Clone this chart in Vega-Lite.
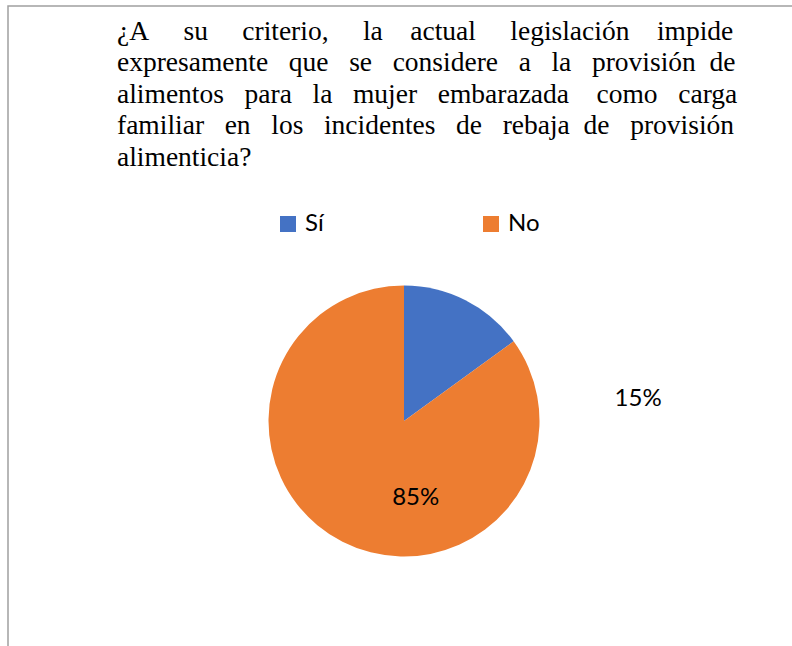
{
  "$schema": "https://vega.github.io/schema/vega-lite/v6.json",
  "autosize": "none",
  "width": 792,
  "height": 830,
  "padding": {"left": 8, "top": 6, "right": -8, "bottom": -190},
  "background": "white",
  "config": {
    "view": {"stroke": null},
    "font": "Lato"
  },
  "title": {
    "text": [
      "¿A\u00a0\u00a0\u00a0\u00a0\u00a0su\u00a0\u00a0\u00a0\u00a0\u00a0criterio,\u00a0\u00a0\u00a0\u00a0\u00a0la\u00a0\u00a0\u00a0\u00a0actual\u00a0\u00a0\u00a0\u00a0\u00a0legislación\u00a0\u00a0\u00a0\u00a0impide",
      "expresamente\u00a0\u00a0\u00a0que\u00a0\u00a0\u00a0se\u00a0\u00a0\u00a0considere\u00a0\u00a0\u00a0a\u00a0\u00a0\u00a0la\u00a0\u00a0\u00a0provisión\u00a0\u00a0de",
      "alimentos\u00a0\u00a0\u00a0para\u00a0\u00a0\u00a0la\u00a0\u00a0\u00a0mujer\u00a0\u00a0\u00a0embarazada\u00a0\u00a0\u00a0\u00a0como\u00a0\u00a0\u00a0carga",
      "familiar\u00a0\u00a0\u00a0en\u00a0\u00a0\u00a0los\u00a0\u00a0\u00a0incidentes\u00a0\u00a0\u00a0de\u00a0\u00a0\u00a0rebaja\u00a0\u00a0de\u00a0\u00a0\u00a0provisión",
      "alimenticia?"
    ],
    "anchor": "start",
    "frame": "group",
    "orient": "top",
    "offset": -166,
    "dx": 109,
    "font": "Liberation Serif",
    "fontSize": 27.5,
    "fontWeight": "normal",
    "lineHeight": 31.5,
    "color": "#000000"
  },
  "data": {
    "values": [
      {"respuesta": "Sí", "porcentaje": 15, "etiqueta": "15%", "orden": 1},
      {"respuesta": "No", "porcentaje": 85, "etiqueta": "85%", "orden": 2}
    ]
  },
  "layer": [
    {
      "data": {"values": [{"marco": "borde"}]},
      "mark": {"type": "rect", "fill": null, "fillOpacity": 0, "stroke": "#a0a0a0", "strokeWidth": 1.5},
      "encoding": {}
    },
    {
      "mark": {"type": "arc", "radius": 135.5},
      "encoding": {
        "theta": {"field": "porcentaje", "type": "quantitative", "stack": true},
        "order": {"field": "orden", "type": "quantitative"},
        "color": {
          "field": "respuesta",
          "type": "nominal",
          "sort": ["Sí", "No"],
          "scale": {"domain": ["Sí", "No"], "range": ["#4472C4", "#ED7D31"]},
          "legend": {
            "title": null,
            "orient": "none",
            "legendX": 268,
            "legendY": 206,
            "direction": "horizontal",
            "columns": 2,
            "padding": 0,
            "columnPadding": 155,
            "symbolType": "square",
            "symbolSize": 256,
            "symbolStrokeWidth": 0,
            "labelOffset": 5,
            "labelFont": "Lato",
            "labelFontSize": 24,
            "labelColor": "#000000"
          }
        }
      }
    },
    {
      "mark": {"type": "text", "radius": 150, "dx": 166, "dy": 112, "fontSize": 24, "font": "Lato", "color": "#000000"},
      "encoding": {
        "theta": {"field": "porcentaje", "type": "quantitative", "stack": true},
        "order": {"field": "orden", "type": "quantitative"},
        "text": {"condition": {"test": "datum.respuesta === 'Sí'", "field": "etiqueta"}, "value": ""}
      }
    },
    {
      "mark": {"type": "text", "radius": 80, "dx": 48, "dy": 6, "fontSize": 24, "font": "Lato", "color": "#000000"},
      "encoding": {
        "theta": {"field": "porcentaje", "type": "quantitative", "stack": true},
        "order": {"field": "orden", "type": "quantitative"},
        "text": {"condition": {"test": "datum.respuesta === 'No'", "field": "etiqueta"}, "value": ""}
      }
    }
  ]
}
